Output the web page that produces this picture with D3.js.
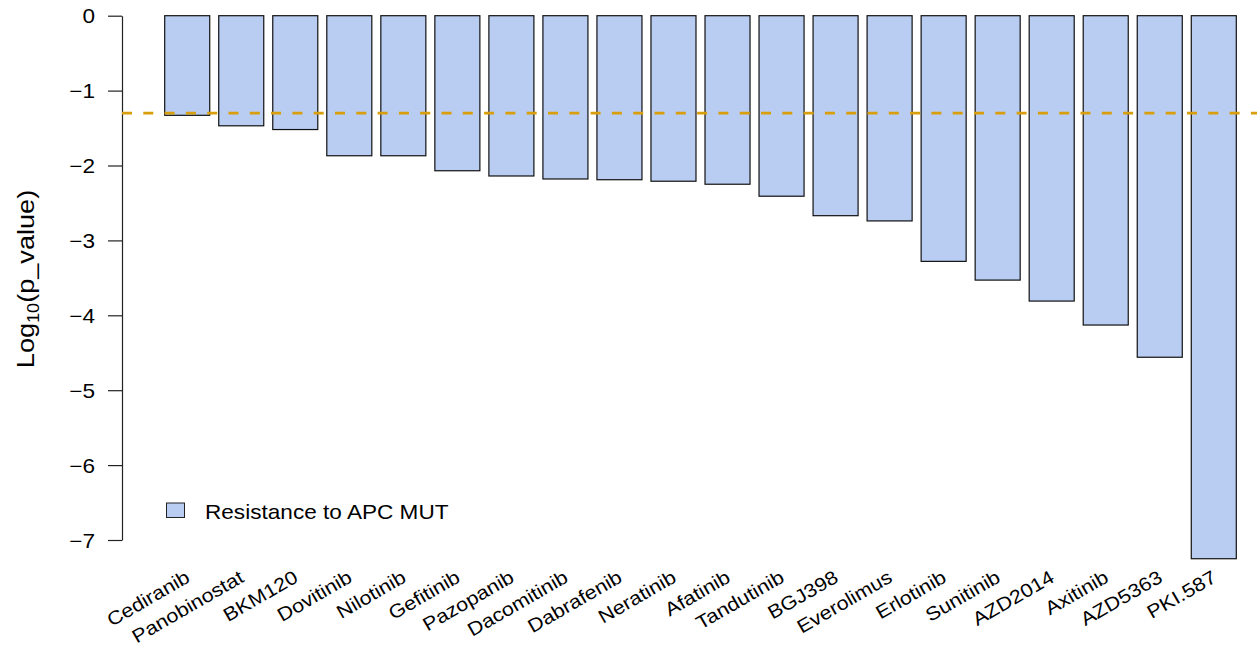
<!DOCTYPE html>
<html>
<head>
<meta charset="utf-8">
<script src="https://cdn.jsdelivr.net/npm/d3@7"></script>
<style>
  body { margin: 0; background: #fff; }
  text { font-family: "Liberation Sans", Arial, Helvetica, sans-serif; fill: #000; }
</style>
</head>
<body>
<svg id="chart" width="1257" height="647"></svg>
<script>
// drugs, in plotted order
const drugs = ["Cediranib", "Panobinostat", "BKM120", "Dovitinib", "Nilotinib", "Gefitinib",
  "Pazopanib", "Dacomitinib", "Dabrafenib", "Neratinib", "Afatinib", "Tandutinib", "BGJ398",
  "Everolimus", "Erlotinib", "Sunitinib", "AZD2014", "Axitinib", "AZD5363", "PKI.587"];
// log10(p_value)
const logP = [-1.33, -1.47, -1.52, -1.87, -1.87, -2.07, -2.14, -2.18, -2.19, -2.21, -2.25,
  -2.41, -2.67, -2.74, -3.28, -3.53, -3.81, -4.13, -4.56, -7.25];
const yTicks = [0, -1, -2, -3, -4, -5, -6, -7];
const cutoff = Math.log10(0.05);
const legendLabel = "Resistance to APC MUT";

const svg = d3.select("#chart"),
    width = +svg.attr("width");

const barFill = "#b9cdf2";
const sx = 1.13; // the reference font runs wider than Liberation Sans

const x = d3.scaleBand()
    .domain(drugs)
    .range([164.7, 1236.3])
    .paddingInner(1 / 6)
    .paddingOuter(0);

const y = d3.scaleLinear()
    .domain([-7, 0])
    .range([540, 15.7]);

// bars hang down from 0
svg.append("g").selectAll("rect")
    .data(drugs)
    .enter().append("rect")
    .attr("x", d => x(d))
    .attr("y", y(0))
    .attr("width", x.bandwidth())
    .attr("height", (d, i) => y(logP[i]) - y(0))
    .attr("fill", barFill)
    .attr("stroke", "#111")
    .attr("stroke-width", 1.2);

// y axis
const yAxis = svg.append("g")
    .attr("transform", "translate(122,0)")
    .call(d3.axisLeft(y).tickValues(yTicks).tickSize(14).tickSizeOuter(0)
        .tickFormat(d => d < 0 ? "\u2212" + Math.abs(d) : String(d)));
yAxis.select(".domain").attr("stroke", "#222").attr("stroke-width", 1.2);
yAxis.selectAll(".tick line").attr("stroke", "#222").attr("stroke-width", 1.2);
yAxis.selectAll(".tick text")
    .attr("font-size", 20)
    .attr("x", null)
    .attr("dy", "0.36em")
    .attr("transform", `translate(-27,0) scale(${sx},1)`)
    .style("font-family", "Liberation Sans, Arial, sans-serif");

// y title
const yTitle = svg.append("text")
    .attr("transform", `translate(34,279) rotate(-90) scale(${sx},1)`)
    .attr("text-anchor", "middle")
    .attr("font-size", 24);
yTitle.append("tspan").text("Log");
yTitle.append("tspan").attr("font-size", 16).attr("dy", 5).text("10");
yTitle.append("tspan").attr("dy", -5).text("(p_value)");

// x labels, rotated
svg.append("g").selectAll("text")
    .data(drugs)
    .enter().append("text")
    .attr("transform", d => `translate(${x(d) + x.bandwidth() / 2 + 4},581) rotate(-30) scale(${sx},1)`)
    .attr("text-anchor", "end")
    .attr("font-size", 19)
    .text(d => d);

// p = 0.05 cutoff
svg.append("line")
    .attr("x1", 122).attr("x2", width)
    .attr("y1", y(cutoff)).attr("y2", y(cutoff))
    .attr("stroke", "#d99e0c")
    .attr("stroke-width", 2.8)
    .attr("stroke-dasharray", "10,11.3");

// legend
const legend = svg.append("g").attr("transform", "translate(166.5,503)");
legend.append("rect")
    .attr("width", 18).attr("height", 14.5)
    .attr("fill", barFill).attr("stroke", "#222").attr("stroke-width", 1);
legend.append("text")
    .attr("transform", `translate(38.5,16) scale(${sx},1)`)
    .attr("font-size", 20)
    .text(legendLabel);
</script>
</body>
</html>
